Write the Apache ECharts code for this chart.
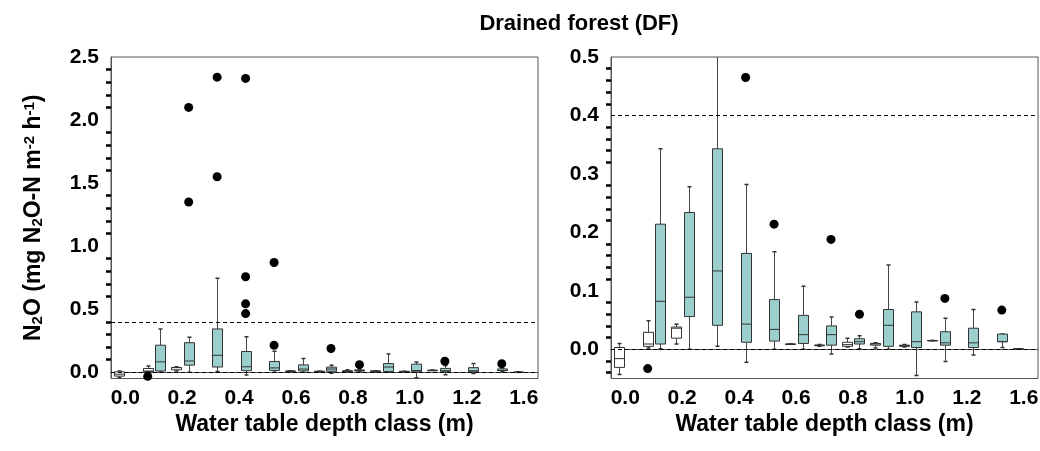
<!DOCTYPE html>
<html>
<head>
<meta charset="utf-8">
<title>Drained forest (DF)</title>
<script src="https://cdn.jsdelivr.net/npm/echarts@6.0.0/dist/echarts.min.js"></script>
<style>
  html, body { margin: 0; padding: 0; background: #fff; }
  #chart { width: 1040px; height: 451px; }
</style>
</head>
<body>
<div id="chart"></div>
<script>
// water table depth classes (every other one is labelled)
const classLabels = ['0.0', '0.1', '0.2', '0.3', '0.4', '0.5', '0.6', '0.7', '0.8', '0.9', '1.0', '1.1', '1.2', '1.4', '1.6'];

const yTicksLeft = [0, 0.5, 1.0, 1.5, 2.0, 2.5];
const yTicksRight = [0, 0.1, 0.2, 0.3, 0.4, 0.5];
const refLines = [0, 0.4];

// [min, Q1, median, Q3, max] per class, null = no box
const whiteBoxes = [
  [-0.043, -0.031, -0.016, 0.003, 0.010],
  [0.002, 0.005, 0.009, 0.029, 0.049],
  [0.009, 0.019, 0.036, 0.038, 0.043],
  null,
  null,
  null,
  [0.009, 0.009, 0.009, 0.009, 0.009],
  [0.005, 0.006, 0.007, 0.007, 0.008],
  [0.004, 0.005, 0.008, 0.012, 0.019],
  [0.002, 0.007, 0.009, 0.010, 0.011],
  [0.004, 0.005, 0.006, 0.007, 0.008],
  [0.015, 0.015, 0.015, 0.015, 0.015],
  null,
  null,
  [0.001, 0.001, 0.001, 0.001, 0.001]
];

const tealBoxes = [
  null,
  [0.001, 0.009, 0.082, 0.214, 0.343],
  [0.000, 0.056, 0.089, 0.234, 0.278],
  [0.005, 0.041, 0.134, 0.343, 0.745],
  [-0.022, 0.012, 0.043, 0.164, 0.282],
  [0.000, 0.014, 0.034, 0.085, 0.167],
  [0.000, 0.010, 0.025, 0.058, 0.108],
  [-0.008, 0.007, 0.025, 0.040, 0.055],
  [0.001, 0.009, 0.013, 0.018, 0.023],
  [0.000, 0.005, 0.041, 0.068, 0.144],
  [-0.045, 0.003, 0.013, 0.064, 0.081],
  [-0.021, 0.007, 0.011, 0.030, 0.053],
  [-0.010, 0.003, 0.011, 0.036, 0.068],
  [0.003, 0.013, 0.013, 0.026, 0.026],
  null
];

// [class index, value]
const whiteOutliers = [[1, -0.033]];
const tealOutliers = [
  [2, 2.10], [2, 1.35],
  [3, 2.34], [3, 1.55],
  [4, 2.33], [4, 0.757], [4, 0.542], [4, 0.465],
  [5, 0.87], [5, 0.214],
  [7, 0.188],
  [8, 0.060],
  [11, 0.087],
  [13, 0.067]
];

function minorTicks(major, parts) {
  const out = [];
  const step = (major[1] - major[0]) / parts;
  for (let v = major[0] - step; v > -0.05; v -= step) out.push(+v.toFixed(3));
  for (let k = 0; k < major.length - 1; k++) {
    for (let j = 1; j < parts; j++) out.push(+(major[k] + j * step).toFixed(3));
  }
  return out;
}

const font = "'Liberation Sans', Arial, sans-serif";
const toRows = (boxes) => boxes.map((b, i) => (b ? [i].concat(b) : null)).filter(Boolean);

function drawBox(fill, shift) {
  return function (params, api) {
    const i = api.value(0);
    const x = Math.round(api.coord([i, 0])[0] + shift) + 0.5;
    // min, Q1, median, Q3, max
    const y = [1, 2, 3, 4, 5].map((d) => api.coord([i, api.value(d)])[1]);
    const w = 10;
    const whisker = { stroke: '#444', lineWidth: 1 };
    return {
      type: 'group',
      children: [
        { type: 'line', shape: { x1: x, y1: y[4], x2: x, y2: y[3] }, style: whisker },
        { type: 'line', shape: { x1: x, y1: y[1], x2: x, y2: y[0] }, style: whisker },
        { type: 'line', shape: { x1: x - 2, y1: y[4], x2: x + 2, y2: y[4] }, style: { stroke: '#333', lineWidth: 1.5 } },
        { type: 'line', shape: { x1: x - 2, y1: y[0], x2: x + 2, y2: y[0] }, style: { stroke: '#333', lineWidth: 1.5 } },
        { type: 'rect', shape: { x: x - w / 2, y: y[3], width: w, height: Math.max(y[1] - y[3], 0.5) }, style: { fill: fill, stroke: '#333', lineWidth: 1 } },
        { type: 'line', shape: { x1: x - w / 2, y1: y[2], x2: x + w / 2, y2: y[2] }, style: { stroke: '#333', lineWidth: 1 } }
      ]
    };
  };
}

const panels = [
  { left: 111, yMax: 2.5, ticks: yTicksLeft, minor: minorTicks(yTicksLeft, 5), yName: true },
  { left: 611, yMax: 0.5, ticks: yTicksRight, minor: minorTicks(yTicksRight, 5), yName: false }
];

const grid = [], xAxis = [], yAxis = [], series = [];

panels.forEach((p, i) => {
  grid.push({
    left: p.left, top: 57, width: 427, height: 321.5,
    show: true, borderColor: '#555', borderWidth: 1,
    outerBoundsMode: 'none'
  });
  xAxis.push({
    gridIndex: i,
    type: 'category',
    data: classLabels,
    boundaryGap: true,
    axisLine: { lineStyle: { color: '#555', width: 1 } },
    axisTick: { alignWithLabel: true, interval: 0, length: 5, lineStyle: { color: '#000', width: 3 } },
    axisLabel: { interval: 1, margin: 9, fontSize: 21, fontWeight: 'bold', color: '#000', fontFamily: font },
    splitLine: { show: false },
    name: 'Water table depth class (m)',
    nameLocation: 'middle',
    nameGap: 32,
    nameTextStyle: { fontSize: 23, fontWeight: 'bold', color: '#000', fontFamily: font }
  });
  yAxis.push({
    gridIndex: i,
    type: 'value',
    min: -0.05,
    max: p.yMax,
    position: 'left',
    axisLine: { show: true, lineStyle: { color: '#555', width: 1 } },
    axisTick: { customValues: p.ticks, length: 7, lineStyle: { color: '#000', width: 2.5 } },
    axisLabel: {
      customValues: p.ticks, margin: 12, fontSize: 21, fontWeight: 'bold', color: '#000', fontFamily: font,
      formatter: (v) => v.toFixed(1)
    },
    splitLine: { show: false },
    name: p.yName ? 'N{sub|2}O (mg N{sub|2}O-N m{sup|-2} h{sup|-1})' : '',
    nameLocation: 'middle',
    nameRotate: 90,
    nameGap: 66,
    nameTextStyle: {
      fontSize: 23, fontWeight: 'bold', color: '#000', fontFamily: font,
      rich: {
        sub: { fontSize: 15, fontWeight: 'bold', color: '#000', fontFamily: font, verticalAlign: 'bottom' },
        sup: { fontSize: 15, fontWeight: 'bold', color: '#000', fontFamily: font, verticalAlign: 'top' }
      }
    }
  });
  // second axis carries the short minor ticks only
  yAxis.push({
    gridIndex: i,
    type: 'value',
    min: -0.05,
    max: p.yMax,
    position: 'left',
    offset: 0,
    axisLine: { show: false },
    axisTick: { show: true, customValues: p.minor, length: 5, lineStyle: { color: '#000', width: 2.5 } },
    axisLabel: { show: false },
    splitLine: { show: false }
  });

  series.push({
    type: 'custom',
    xAxisIndex: i,
    yAxisIndex: 2 * i,
    clip: true,
    silent: true,
    encode: { x: 0, y: [1, 2, 3, 4, 5] },
    renderItem: drawBox('#fff', -6),
    data: toRows(whiteBoxes)
  });
  series.push({
    type: 'custom',
    xAxisIndex: i,
    yAxisIndex: 2 * i,
    clip: true,
    silent: true,
    encode: { x: 0, y: [1, 2, 3, 4, 5] },
    renderItem: drawBox('#9bcfcd', 6.5),
    data: toRows(tealBoxes)
  });
  series.push({
    type: 'scatter',
    xAxisIndex: i,
    yAxisIndex: 2 * i,
    clip: true,
    silent: true,
    symbolSize: 9,
    symbolOffset: [-6, 0],
    itemStyle: { color: '#000', opacity: 1 },
    data: whiteOutliers
  });
  series.push({
    type: 'scatter',
    xAxisIndex: i,
    yAxisIndex: 2 * i,
    clip: true,
    silent: true,
    symbolSize: 9,
    symbolOffset: [6.5, 0],
    itemStyle: { color: '#000', opacity: 1 },
    data: tealOutliers,
    markLine: {
      silent: true,
      symbol: ['none', 'none'],
      label: { show: false },
      lineStyle: { color: '#000', type: [4, 3], width: 1 },
      data: refLines.map((v) => ({ yAxis: v }))
    }
  });
});

const chart = echarts.init(document.getElementById('chart'));
chart.setOption({
  backgroundColor: '#fff',
  animation: false,
  title: {
    text: 'Drained forest (DF)',
    left: 574,
    top: 8,
    textAlign: 'center',
    textStyle: { fontSize: 22, fontWeight: 'bold', color: '#000', fontFamily: font }
  },
  grid: grid,
  xAxis: xAxis,
  yAxis: yAxis,
  series: series
});
</script>
</body>
</html>
